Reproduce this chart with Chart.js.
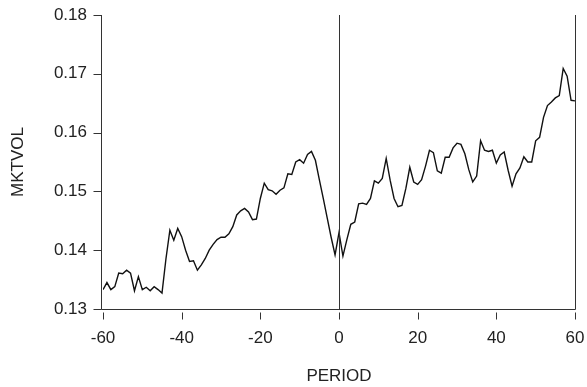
<!DOCTYPE html>
<html>
<head>
<meta charset="utf-8">
<script src="https://cdn.jsdelivr.net/npm/chart.js@4/dist/chart.umd.min.js"></script>
<style>
  html, body { margin: 0; padding: 0; background: #fff; }
  canvas { display: block; }
</style>
</head>
<body>
<canvas id="vol" width="587" height="387"></canvas>
<script>
// === Datos ===
const periodos = [
  -60, -59, -58, -57, -56, -55, -54, -53, -52, -51, -50, -49, -48, -47, -46, -45, -44, -43, -42, -41,
  -40, -39, -38, -37, -36, -35, -34, -33, -32, -31, -30, -29, -28, -27, -26, -25, -24, -23, -22, -21,
  -20, -19, -18, -17, -16, -15, -14, -13, -12, -11, -10, -9, -8, -7, -6, -5, -4, -3, -2, -1,
  0, 1, 2, 3, 4, 5, 6, 7, 8, 9, 10, 11, 12, 13, 14, 15, 16, 17, 18, 19,
  20, 21, 22, 23, 24, 25, 26, 27, 28, 29, 30, 31, 32, 33, 34, 35, 36, 37, 38, 39,
  40, 41, 42, 43, 44, 45, 46, 47, 48, 49, 50, 51, 52, 53, 54, 55, 56, 57, 58, 59, 60
];

const mktvol = [
  0.1333, 0.1345, 0.1333, 0.1338, 0.1361, 0.1360, 0.1366, 0.1361, 0.1331, 0.1355,
  0.1333, 0.1337, 0.1331, 0.1338, 0.1333, 0.1327, 0.1385, 0.1434, 0.1417, 0.1437,
  0.1423, 0.1400, 0.1381, 0.1382, 0.1366, 0.1375, 0.1386, 0.1400, 0.1410, 0.1418,
  0.1422, 0.1422, 0.1428, 0.1440, 0.1460, 0.1467, 0.1471, 0.1465, 0.1452, 0.1453,
  0.1488, 0.1514, 0.1503, 0.1501, 0.1495, 0.1502, 0.1506, 0.1530, 0.1529, 0.1550,
  0.1554, 0.1548, 0.1563, 0.1568, 0.1553, 0.1520, 0.1488, 0.1455, 0.1422, 0.1392,
  0.1430, 0.1390, 0.1418, 0.1444, 0.1448, 0.1479, 0.1480, 0.1478, 0.1488, 0.1518,
  0.1514, 0.1522, 0.1556, 0.1519, 0.1488, 0.1474, 0.1476, 0.1505, 0.1541, 0.1516,
  0.1512, 0.1520, 0.1543, 0.1570, 0.1566, 0.1535, 0.1531, 0.1558, 0.1558, 0.1574,
  0.1582, 0.1580, 0.1564, 0.1537, 0.1516, 0.1526, 0.1586, 0.1570, 0.1568, 0.1570,
  0.1548, 0.1562, 0.1567, 0.1536, 0.1509, 0.1530, 0.1540, 0.1559, 0.1550, 0.1550,
  0.1586, 0.1592, 0.1626, 0.1646, 0.1652, 0.1659, 0.1663, 0.1709, 0.1696, 0.1655,
  0.1654
];

const ticksY = [0.13, 0.14, 0.15, 0.16, 0.17, 0.18];
const ticksX = [-60, -40, -20, 0, 20, 40, 60];

// === Estilo ===
const tinta = '#222';
const trazo = '#333';
const fuente = { family: "'Liberation Sans', Arial, sans-serif", size: 17 };
const invisible = 'rgba(0,0,0,0)';

// ejes, marcas y línea en el periodo 0
const ejes = {
  id: 'ejes',
  afterDatasetsDraw(chart) {
    const { ctx, chartArea: a, scales: { x, y } } = chart;
    ctx.save();
    ctx.strokeStyle = trazo;
    ctx.lineWidth = 1;
    ctx.beginPath();
    const izq = Math.round(a.left) - 1.5;
    const der = Math.round(a.right) + 0.5;
    const abajo = Math.round(a.bottom) + 0.5;
    const arriba = Math.round(a.top);
    ctx.moveTo(izq, arriba); ctx.lineTo(izq, abajo);
    ctx.moveTo(izq, abajo); ctx.lineTo(der, abajo);
    ctx.moveTo(der, arriba); ctx.lineTo(der, abajo);
    const cero = Math.round(x.getPixelForValue(0)) + 0.5;
    ctx.moveTo(cero, arriba); ctx.lineTo(cero, abajo);
    ticksY.forEach(v => {
      const py = Math.round(y.getPixelForValue(v)) + 0.5;
      ctx.moveTo(izq - 8, py); ctx.lineTo(izq, py);
    });
    ticksX.forEach(v => {
      const px = Math.round(x.getPixelForValue(v)) + 0.5;
      ctx.moveTo(px, abajo + 3); ctx.lineTo(px, abajo + 10);
    });
    ctx.stroke();
    ctx.restore();
  }
};

new Chart(document.getElementById('vol'), {
  type: 'line',
  data: {
    datasets: [{
      data: periodos.map((p, i) => ({ x: p, y: mktvol[i] })),
      borderColor: '#111',
      borderWidth: 1.4,
      pointRadius: 0,
      tension: 0,
      fill: false
    }]
  },
  options: {
    responsive: false,
    animation: false,
    layout: { padding: { top: 15, left: 0, right: 12, bottom: 0 } },
    plugins: {
      legend: { display: false },
      tooltip: { enabled: false }
    },
    scales: {
      x: {
        type: 'linear',
        min: -60,
        max: 60,
        afterBuildTicks: s => { s.ticks = ticksX.map(v => ({ value: v })); },
        afterFit: s => { s.height = 78; s.paddingLeft = 0; s.paddingRight = 0; },
        ticks: { color: tinta, font: fuente, padding: 9, maxRotation: 0 },
        grid: { color: invisible, tickColor: invisible, drawOnChartArea: false, tickLength: 10 },
        border: { display: false },
        title: { display: true, text: 'PERIOD', color: tinta, font: fuente, padding: { top: 4, bottom: 0 } }
      },
      y: {
        min: 0.13,
        max: 0.18,
        afterBuildTicks: s => { s.ticks = ticksY.map(v => ({ value: v })); },
        afterFit: s => { s.width = 103; s.paddingTop = 0; s.paddingBottom = 0; },
        ticks: { color: tinta, font: fuente, padding: 8, callback: v => v.toFixed(2) },
        grid: { color: invisible, tickColor: invisible, drawOnChartArea: false, tickLength: 8 },
        border: { display: false },
        title: { display: true, text: 'MKTVOL', color: tinta, font: fuente, padding: { top: 8, bottom: 0 } }
      }
    }
  },
  plugins: [ejes]
});
</script>
</body>
</html>
